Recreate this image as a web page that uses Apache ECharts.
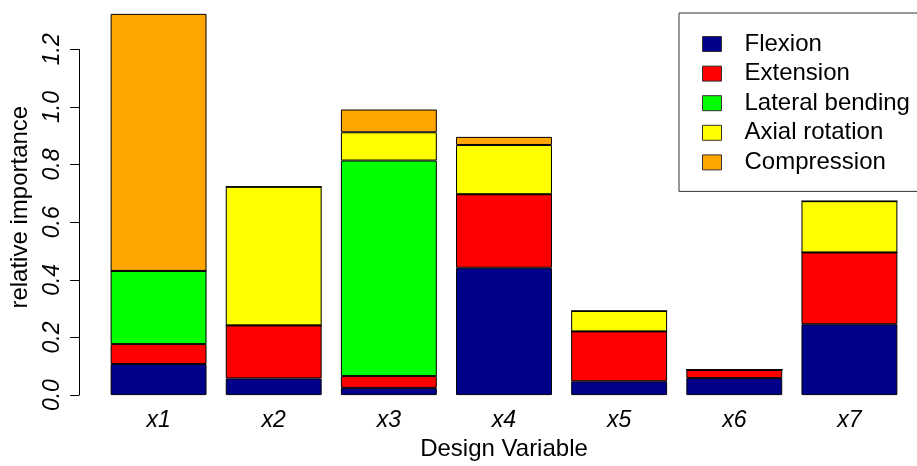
<!DOCTYPE html>
<html>
<head>
<meta charset="utf-8">
<script src="https://cdn.jsdelivr.net/npm/echarts@6/dist/echarts.min.js"></script>
<style>
html,body{margin:0;padding:0;background:#fff;}
#chart{width:917px;height:466px;}
</style>
</head>
<body>
<div id="chart"></div>
<script>
var categories = ['x1', 'x2', 'x3', 'x4', 'x5', 'x6', 'x7'];
var seriesNames = ['Flexion', 'Extension', 'Lateral bending', 'Axial rotation', 'Compression'];
var flexion = [0.108, 0.058, 0.025, 0.442, 0.048, 0.059, 0.246];
var extension = [0.069, 0.184, 0.041, 0.255, 0.173, 0.029, 0.249];
var lateralBending = [0.254, 0, 0.748, 0, 0, 0, 0];
var axialRotation = [0, 0.481, 0.098, 0.171, 0.071, 0, 0.178];
var compression = [0.892, 0, 0.079, 0.028, 0, 0, 0];
var yTicks = [0, 0.2, 0.4, 0.6, 0.8, 1.0, 1.2];
var colors = ['#00008B', '#FF0000', '#00FF00', '#FFFF00', '#FFA500'];

var values = [flexion, extension, lateralBending, axialRotation, compression];
var FONT = "'Liberation Sans', Arial, sans-serif";

var chart = echarts.init(document.getElementById('chart'), null, {renderer: 'canvas'});
var series = seriesNames.map(function (name, i) {
  return {
    name: name,
    type: 'bar',
    stack: 'total',
    clip: false,
    barCategoryGap: '16.7%',
    data: values[i],
    itemStyle: {color: colors[i], borderColor: '#000', borderWidth: 1},
    emphasis: {disabled: true}
  };
});

chart.setOption({
  animation: false,
  backgroundColor: '#fff',
  grid: {left: 98, right: 10, top: 49.3, bottom: 66, containLabel: false},
  legend: {
    orient: 'vertical',
    left: 679,
    top: 13,
    data: seriesNames,
    icon: 'rect',
    itemWidth: 19,
    itemHeight: 15,
    itemGap: 5.6,
    padding: [19, 30, 17, 23],
    borderColor: '#333',
    borderWidth: 1,
    itemStyle: {borderColor: '#333', borderWidth: 1},
    textStyle: {fontFamily: FONT, fontSize: 24, lineHeight: 24, color: '#000', padding: [0, 0, 0, 18]}
  },
  xAxis: {
    type: 'category',
    data: categories,
    axisLine: {show: false},
    axisTick: {show: false},
    axisLabel: {fontFamily: FONT, fontSize: 23, fontStyle: 'italic', color: '#000', margin: 14},
    name: 'Design Variable',
    nameLocation: 'middle',
    nameGap: 41,
    nameTextStyle: {fontFamily: FONT, fontSize: 24, color: '#000'}
  },
  yAxis: {
    type: 'value',
    min: yTicks[0],
    max: yTicks[yTicks.length - 1],
    interval: 0.2,
    offset: 22,
    splitLine: {show: false},
    axisLine: {show: true, lineStyle: {color: '#000', width: 1}},
    axisTick: {show: true, length: 9, lineStyle: {color: '#000'}},
    axisLabel: {
      fontFamily: FONT, fontSize: 23, fontStyle: 'italic', color: '#000',
      rotate: 90, margin: 15,
      formatter: function (v) { return v.toFixed(1); }
    },
    name: 'relative importance',
    nameLocation: 'middle',
    nameGap: 47,
    nameTextStyle: {fontFamily: FONT, fontSize: 24, color: '#000', padding: [0, 0, 0, 30]}
  },
  series: series
});
</script>
</body>
</html>
